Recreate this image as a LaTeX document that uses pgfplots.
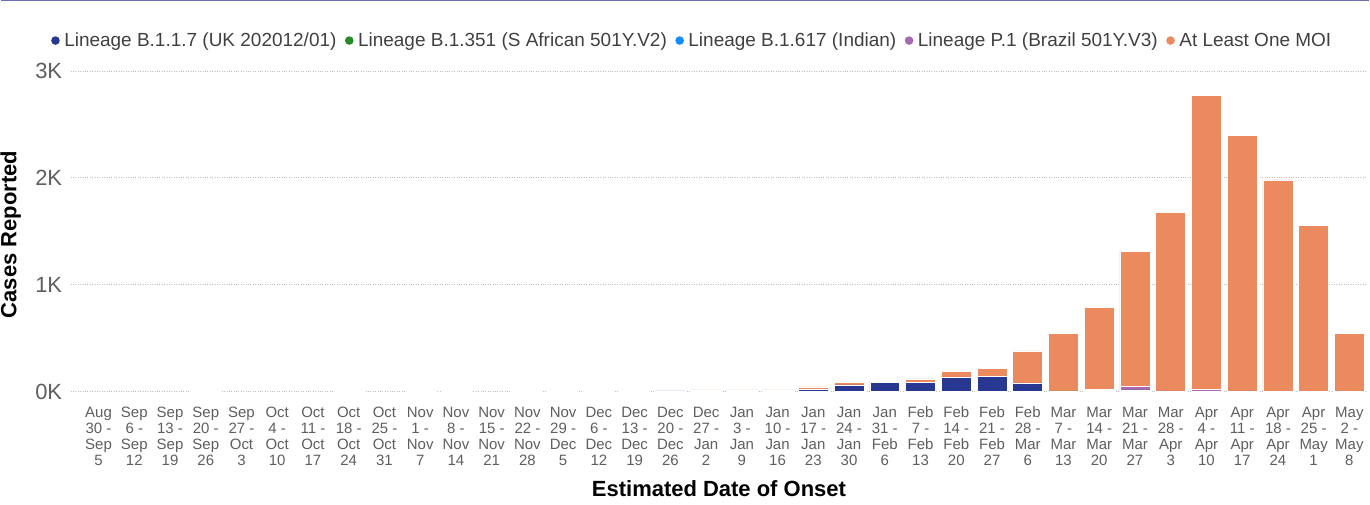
\documentclass[border=0pt]{standalone}
\usepackage{pgfplots}
\usepackage{pgfplotstable}
\pgfplotsset{compat=1.18}
\usepackage{fontspec}
\setmainfont{Liberation Sans}
\definecolor{cNavy}{RGB}{40,56,145}
\definecolor{cGreen}{RGB}{35,140,35}
\definecolor{cCyan}{RGB}{17,141,255}
\definecolor{cPurple}{RGB}{166,105,176}
\definecolor{cOrange}{RGB}{235,137,95}
\definecolor{cTick}{RGB}{96,94,92}
\definecolor{cGrid}{RGB}{190,190,190}
\definecolor{cTop}{RGB}{110,110,180}
\pgfplotstableread{
x blue green cyan purple orange
0 0 0 0 0 0
1 0 0 0 0 0
2 0 0 0 0 0
3 0 0 0 0 2
4 0 0 0 0 0
5 0 0 0 0 0
6 0 0 0 0 0
7 0 0 0 0 2
8 0 0 0 0 0
9 0 0 0 0 2
10 0 0 0 0 2
11 0 0 0 0 0
12 1 0 0 1 0
13 1 0 0 1 0
14 0 0 0 0 2
15 1 0 0 0 4
16 6 0 0 0 6
17 10 0 0 0 5
18 5 0 0 0 10
19 8 0 0 0 7
20 22 0 0 0 21
21 62 0 0 0 22
22 84 0 0 0 12
23 87 0 0 0 31
24 134 0 0 3 55
25 142 0 0 3 70
26 78 0 0 4 298
27 0 6 0 0 542
28 5 3 0 10 770
29 10 5 0 35 1261
30 0 0 0 6 1670
31 3 0 0 14 2752
32 0 0 0 6 2389
33 0 0 0 0 1981
34 0 0 0 0 1554
35 0 0 0 0 542
}\data
\begin{document}
\begin{tikzpicture}[x=1pt,y=1pt]
\begin{axis}[
  scale only axis,
  width=1298pt, height=321pt,
  at={(70pt,-392pt)}, anchor=south west,
  ybar stacked, bar width=30pt,
  xmin=-0.78, xmax=35.5,
  ymin=0, ymax=3000,
  axis line style={draw=none},
  tick style={draw=none},
  major tick length=0pt,
  ymajorgrids, grid style={cGrid, dotted, line width=0.8pt},
  ytick={0,1000,2000,3000},
  yticklabels={0K,1K,2K,3K},
  yticklabel style={font=\fontsize{22}{22}\selectfont, text=cTick, xshift=-5pt},
  xtick=data,
  xticklabels={
    {Aug\\30 -\\Sep\\5},{Sep\\6 -\\Sep\\12},{Sep\\13 -\\Sep\\19},{Sep\\20 -\\Sep\\26},
    {Sep\\27 -\\Oct\\3},{Oct\\4 -\\Oct\\10},{Oct\\11 -\\Oct\\17},{Oct\\18 -\\Oct\\24},
    {Oct\\25 -\\Oct\\31},{Nov\\1 -\\Nov\\7},{Nov\\8 -\\Nov\\14},{Nov\\15 -\\Nov\\21},
    {Nov\\22 -\\Nov\\28},{Nov\\29 -\\Dec\\5},{Dec\\6 -\\Dec\\12},{Dec\\13 -\\Dec\\19},
    {Dec\\20 -\\Dec\\26},{Dec\\27 -\\Jan\\2},{Jan\\3 -\\Jan\\9},{Jan\\10 -\\Jan\\16},
    {Jan\\17 -\\Jan\\23},{Jan\\24 -\\Jan\\30},{Jan\\31 -\\Feb\\6},{Feb\\7 -\\Feb\\13},
    {Feb\\14 -\\Feb\\20},{Feb\\21 -\\Feb\\27},{Feb\\28 -\\Mar\\6},{Mar\\7 -\\Mar\\13},
    {Mar\\14 -\\Mar\\20},{Mar\\21 -\\Mar\\27},{Mar\\28 -\\Apr\\3},{Apr\\4 -\\Apr\\10},
    {Apr\\11 -\\Apr\\17},{Apr\\18 -\\Apr\\24},{Apr\\25 -\\May\\1},{May\\2 -\\May\\8}},
  xticklabel style={align=center, text=cTick, font=\fontsize{15}{16}\selectfont, yshift=-12pt},
  ylabel={\textbf{Cases Reported}},
  ylabel style={font=\fontsize{22}{22}\selectfont, at={(axis description cs:-0.0462,0.49)}, anchor=center, rotate=0},
  xlabel={\textbf{Estimated Date of Onset}},
  xlabel style={font=\fontsize{22}{22}\selectfont, yshift=-8pt},
  legend columns=5,
  legend style={draw=none, fill=none, at={(axis description cs:-0.0175,1.13)}, anchor=north west,
    font=\fontsize{19}{19}\selectfont, text=black!75,
    /tikz/every odd column/.append style={column sep=3pt},
    /tikz/every even column/.append style={column sep=7pt},
    nodes={inner sep=1.5pt}},
  legend image code/.code={\fill[#1,draw=none] (0pt,0pt) circle (4.3pt);},
  every axis plot/.append style={draw=white, line width=0.6pt},
]
\addplot[fill=cNavy] table[x=x,y=blue]{\data};
\addplot[fill=cGreen] table[x=x,y=green]{\data};
\addplot[fill=cCyan] table[x=x,y=cyan]{\data};
\addplot[fill=cPurple] table[x=x,y=purple]{\data};
\addplot[fill=cOrange] table[x=x,y=orange]{\data};
\legend{Lineage B.1.1.7 (UK 202012/01),Lineage B.1.351 (S African 501Y.V2),Lineage B.1.617 (Indian),Lineage P.1 (Brazil 501Y.V3),At Least One MOI}
\end{axis}
\pgfresetboundingbox
\path (0pt,0pt) rectangle (1370pt,-505pt);
\draw[cTop, line width=1.5pt] (0pt,-0.75pt) -- (1370pt,-0.75pt);
\end{tikzpicture}
\end{document}
